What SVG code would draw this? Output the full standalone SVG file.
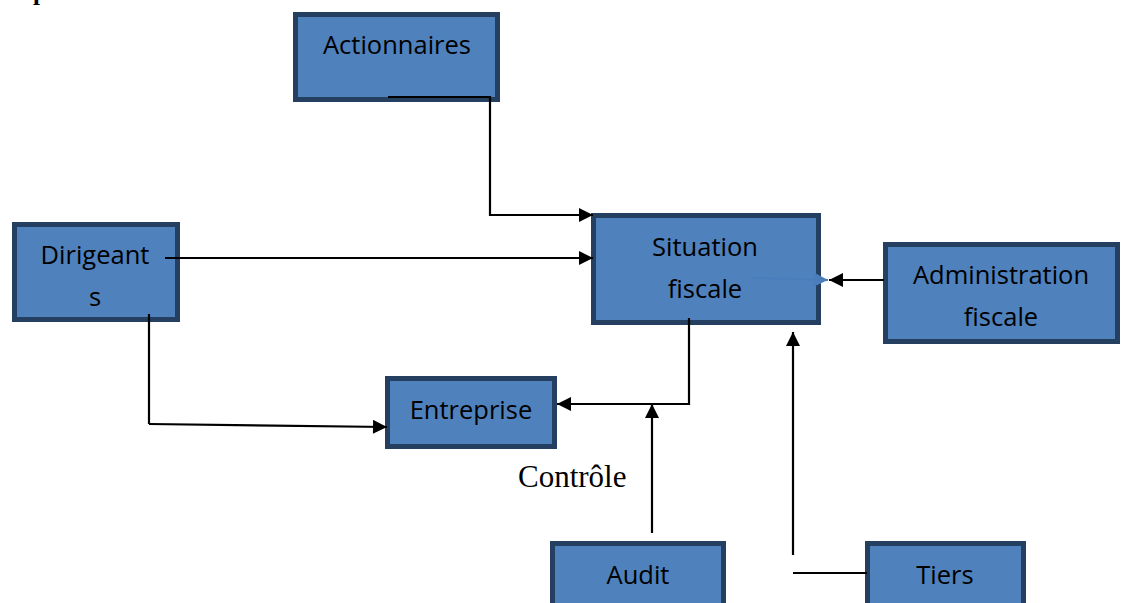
<svg xmlns="http://www.w3.org/2000/svg" width="1126" height="603" viewBox="0 0 1126 603">
<style>
.box{fill:#4F81BD;stroke:#243F60;stroke-width:5}
.lbl{font-family:"Open Sans","Liberation Sans",sans-serif;font-size:25.5px;fill:#000;text-anchor:middle}
.ln{fill:none;stroke:#000;stroke-width:2.2}
</style>
<defs>
<marker id="ah" viewBox="0 0 10 10" refX="10" refY="5" markerWidth="17" markerHeight="14" markerUnits="userSpaceOnUse" orient="auto"><path d="M0,0 L10,5 L0,10 z" fill="#000"/></marker>
<marker id="ahb" viewBox="0 0 10 10" refX="10" refY="5" markerWidth="14" markerHeight="14" markerUnits="userSpaceOnUse" orient="auto"><path d="M0,0 L10,5 L0,10 z" fill="#4A7EBB"/></marker>
</defs>
<rect width="1126" height="603" fill="#fff"/>
<text x="33" y="0" font-family="'Liberation Serif',serif" font-weight="bold" font-size="25">p</text>
<g id="actionnaires"><rect class="box" x="295.5" y="14.5" width="202" height="85"/><text class="lbl" x="397" y="54">Actionnaires</text></g>
<g id="dirigeants"><rect class="box" x="14.5" y="224.5" width="163" height="95"/><text class="lbl" x="95" y="264">Dirigeant</text><text class="lbl" x="95" y="306">s</text></g>
<g id="situation"><rect class="box" x="593.5" y="215.5" width="225" height="107"/><text class="lbl" x="705" y="256">Situation</text><text class="lbl" x="705" y="298">fiscale</text></g>
<g id="administration"><rect class="box" x="885.5" y="244.5" width="232" height="97"/><text class="lbl" x="1001" y="284">Administration</text><text class="lbl" x="1001" y="326">fiscale</text></g>
<g id="entreprise"><rect class="box" x="387.5" y="378.5" width="167" height="68"/><text class="lbl" x="471" y="419">Entreprise</text></g>
<g id="audit"><rect class="box" x="552.5" y="543.5" width="171" height="70"/><text class="lbl" x="638" y="584">Audit</text></g>
<g id="tiers"><rect class="box" x="867.5" y="543.5" width="156" height="70"/><text class="lbl" x="945" y="584">Tiers</text></g>
<g id="connectors">
<path class="ln" d="M388 97 H490 V215 H593" marker-end="url(#ah)"/>
<path class="ln" d="M165 258 H593" marker-end="url(#ah)"/>
<path class="ln" d="M149 314 V424"/>
<path class="ln" d="M149 424 L387 427" marker-end="url(#ah)"/>
<path class="ln" d="M689 318 V404 H557" marker-end="url(#ah)"/>
<path class="ln" d="M652 533 V404" marker-end="url(#ah)"/>
<path class="ln" d="M867 573 H793"/>
<path class="ln" d="M793 555 V332" marker-end="url(#ah)"/>
<path d="M753 278 L828 280" fill="none" stroke="#4A7EBB" stroke-width="2" marker-end="url(#ahb)"/>
<path class="ln" d="M884 280 H829" marker-end="url(#ah)"/>
</g>
<text x="518" y="487" font-family="'Liberation Serif',serif" font-size="31">Contrôle</text>
</svg>
